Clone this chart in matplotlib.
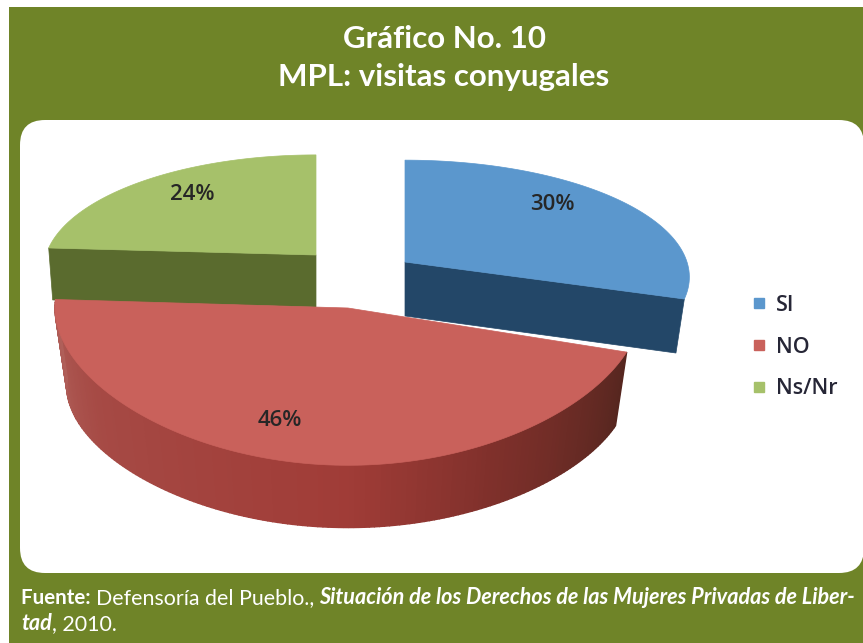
"""Grafico No. 10: 3D style exploded pie, drawn as polygons in pixel coordinates."""

import matplotlib
matplotlib.use("Agg")
import matplotlib.pyplot as plt
import numpy as np
from matplotlib.colors import to_rgb
from matplotlib.lines import Line2D
from matplotlib.patches import FancyBboxPatch, Polygon, Rectangle

categories = ["SI", "NO", "Ns/Nr"]
values = [30, 46, 24]
title_lines = ["Gráfico No. 10", "MPL: visitas conyugales"]

OLIVE = "#6f8428"
TOP = {"SI": "#5b97cd", "NO": "#c9615b", "Ns/Nr": "#a6c16a"}
# cx, cy, a, b, depth, shrink x, shrink y, x perspective (hand-fitted per slice)
GEOM = {"SI": (405, 262, 282, 115, 54, 0.97, 1.0, 1),
        "NO": (348, 308, 293, 137, 78, 0.96, 0.9, 0),
        "Ns/Nr": (316, 255, 270, 113, 52, 0.985, 1.0, 1)}
LABEL_POS = {"SI": (552, 204), "NO": (280, 420), "Ns/Nr": (192, 194)}
PERSP = 0.129

WALL_ANGLES = [108, 150, 180, 240, 274]
WALL_COLORS = ["#55261f", "#7f302b", "#a03c37", "#a64a45", "#b0605a"]


def project(name, deg, lower=False):
    cx, cy, a, b, depth, sx, sy, kx = GEOM[name]
    th = np.radians(deg)
    u, t = np.sin(th), -np.cos(th)
    w = 1 - PERSP * t
    x, y = a * u / (w if kx else 1), b * t / w
    if lower:
        return cx + x * sx, cy + depth + y * sy
    return cx + x, cy + y


def apex(name, lower=False):
    cx, cy, depth = GEOM[name][0], GEOM[name][1], GEOM[name][4]
    return (cx, cy + depth) if lower else (cx, cy)


fig = plt.figure(figsize=(8.63, 6.43), dpi=100)
ax = fig.add_axes([0, 0, 1, 1])
ax.set_xlim(0, 863)
ax.set_ylim(643, 0)
ax.axis("off")

ax.add_patch(Rectangle((9, 7), 860, 640, color=OLIVE, lw=0))
ax.add_patch(FancyBboxPatch((45, 145), 794, 403, boxstyle="round,pad=25,rounding_size=25",
                            fc="white", ec="none"))

edges = np.concatenate([[0], np.cumsum(values) / np.sum(values) * 360])
spans = {c: (edges[i], edges[i + 1]) for i, c in enumerate(categories)}

# green, then blue, then red so the front slice sits on top
for name, side in [("Ns/Nr", "#5a6b2e"), ("SI", "#234768")]:
    start, end = spans[name]
    corner = end if name == "SI" else start
    pts = [apex(name), project(name, corner), project(name, corner, True), apex(name, True)]
    ax.add_patch(Polygon(pts, fc=side, ec=side, lw=0.5))
    arc = [project(name, d) for d in np.linspace(start, end, 80)]
    ax.add_patch(Polygon([apex(name)] + arc, fc=TOP[name], ec=TOP[name], lw=0.5))

start, end = spans["NO"]
wall_rgb = np.array([to_rgb(c) for c in WALL_COLORS])
steps = np.linspace(start, end, 160)
for d0, d1 in zip(steps[:-1], steps[1:]):
    col = [np.interp((d0 + d1) / 2, WALL_ANGLES, wall_rgb[:, i]) for i in range(3)]
    quad = [project("NO", d0), project("NO", d1),
            project("NO", d1, True), project("NO", d0, True)]
    ax.add_patch(Polygon(quad, fc=col, ec=col, lw=1.0))
arc = [project("NO", d) for d in steps]
ax.add_patch(Polygon([apex("NO")] + arc, fc=TOP["NO"], ec=TOP["NO"], lw=0.5))

for c, v in zip(categories, values):
    x, y = LABEL_POS[c]
    ax.text(x, y, f"{v}%", ha="center", va="center", fontsize=16,
            family="Open Sans", fontweight="semibold", color="#262626")

handles = [Line2D([], [], ls="", marker="s", ms=7.5, color=TOP[c]) for c in categories]
ax.legend(handles, categories, loc="center left", bbox_to_anchor=(729 / 863, 1 - 347 / 643),
          frameon=False, handlelength=1.0, handletextpad=0.27, labelspacing=0.97,
          prop={"family": "Open Sans", "size": 15.5, "weight": "semibold"},
          labelcolor="#262636")

for line, y in zip(title_lines, (39, 77)):
    ax.text(444, y, line, ha="center", va="center", color="white", fontsize=22.5,
            fontweight="bold", family="Lato")


def text_run(runs, x, y):
    # lay the differently styled pieces end to end, measuring each in data units
    rend = fig.canvas.get_renderer()
    for s, weight, style, size in runs:
        t = ax.text(x, y, s, color="white", fontsize=size, family="Lato",
                    fontweight=weight, fontstyle=style, va="baseline", clip_on=True)
        box = t.get_window_extent(rend)
        x = ax.transData.inverted().transform((box.x1, 0))[0]


text_run([("Fuente: ", "bold", "normal", 14.8),
          ("Defensoría del Pueblo., ", "normal", "normal", 15.4),
          ("Situación de los Derechos de las Mujeres Privadas de Liber-", "bold", "italic", 15.6)],
         21, 604)
text_run([("tad", "bold", "italic", 15.6), (", 2010.", "normal", "normal", 15.4)], 21, 630)

fig.savefig("out.png", dpi=100)
